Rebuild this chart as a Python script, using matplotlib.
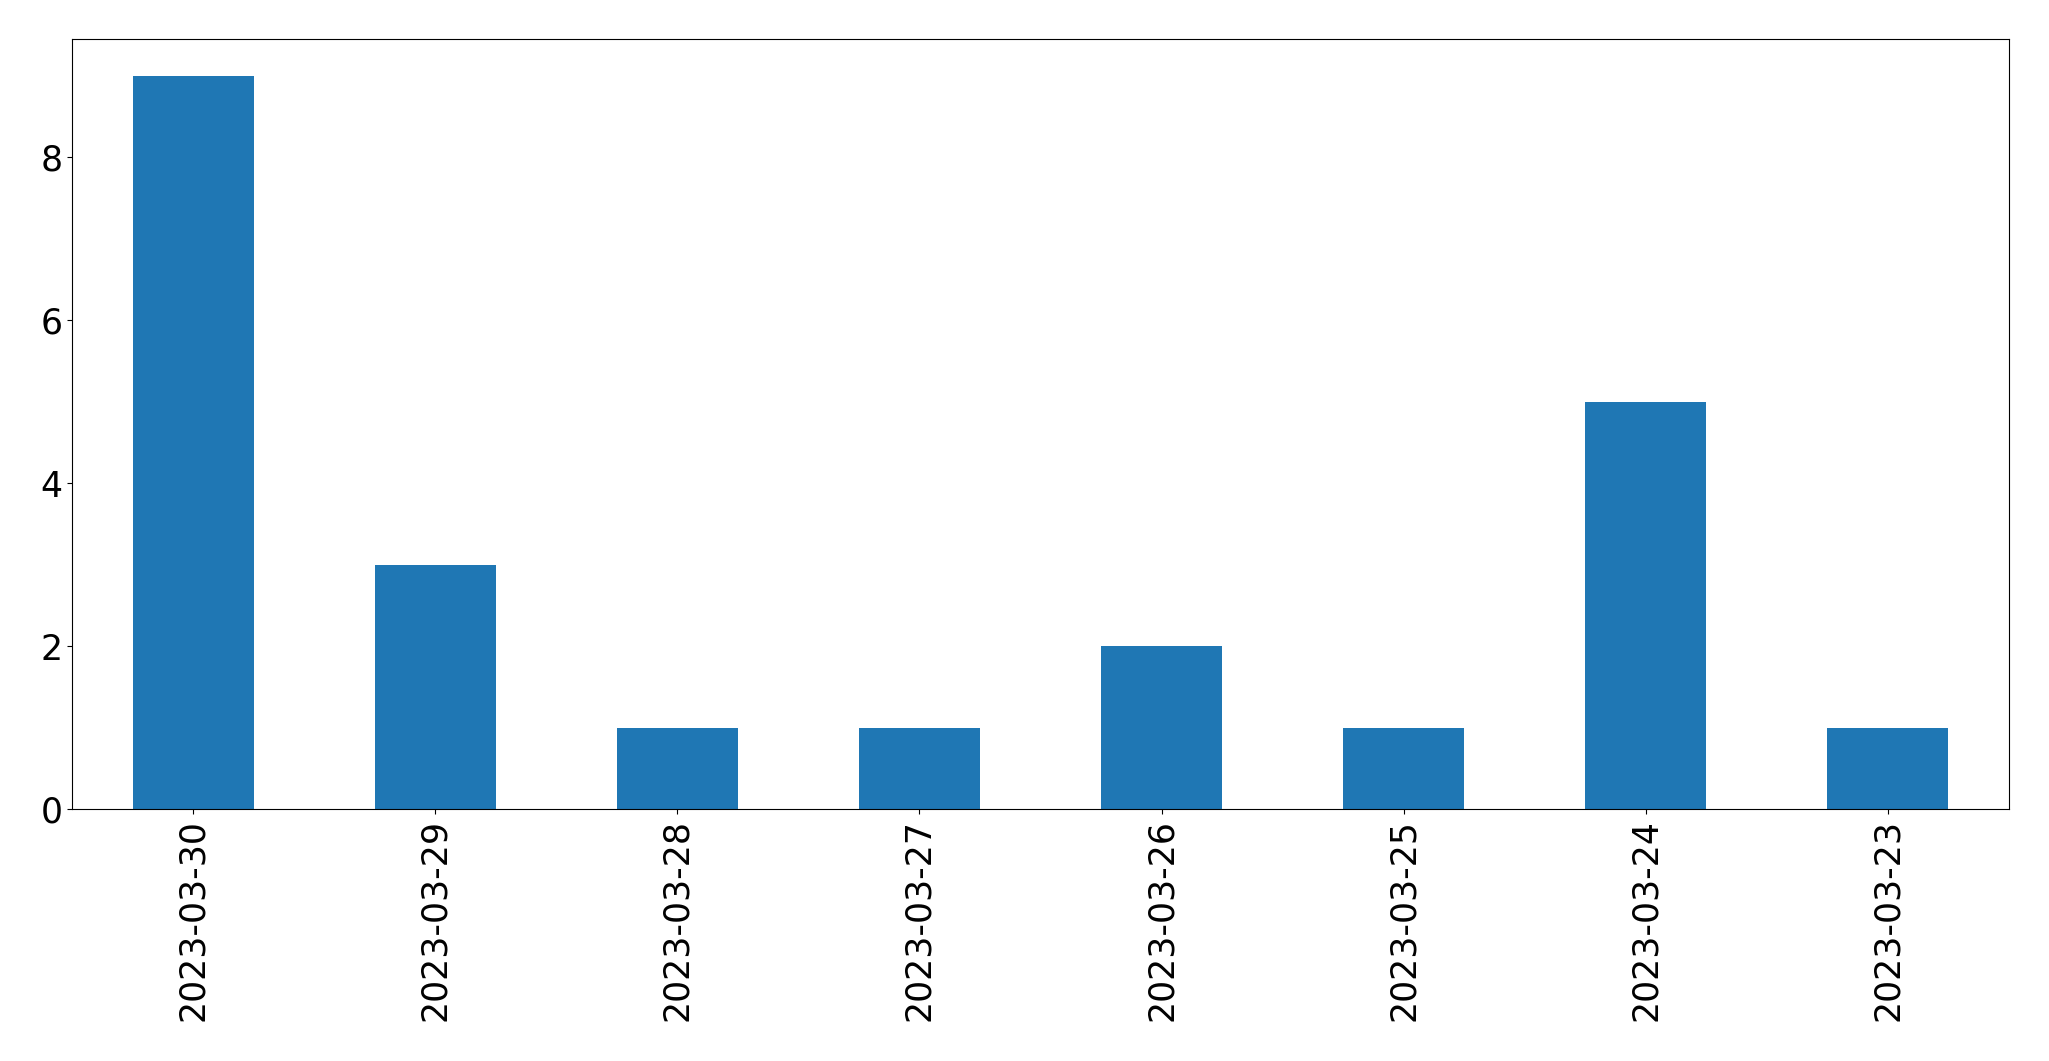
import matplotlib
matplotlib.use("Agg")
import matplotlib.pyplot as plt
import pandas as pd

dates = ["2023-03-30", "2023-03-29", "2023-03-28", "2023-03-27",
         "2023-03-26", "2023-03-25", "2023-03-24", "2023-03-23"]
counts = [9, 3, 1, 1, 2, 1, 5, 1]

s = pd.Series(counts, index=dates)

fig, ax = plt.subplots(figsize=(20.49, 10.61), dpi=100)
s.plot(kind="bar", ax=ax, color="#1f77b4", fontsize=25)
ax.tick_params(axis="x", labelrotation=90)
fig.subplots_adjust(left=72/2049, right=2009/2049, top=1-39/1061, bottom=1-809/1061)
fig.savefig("out.png", dpi=100)
